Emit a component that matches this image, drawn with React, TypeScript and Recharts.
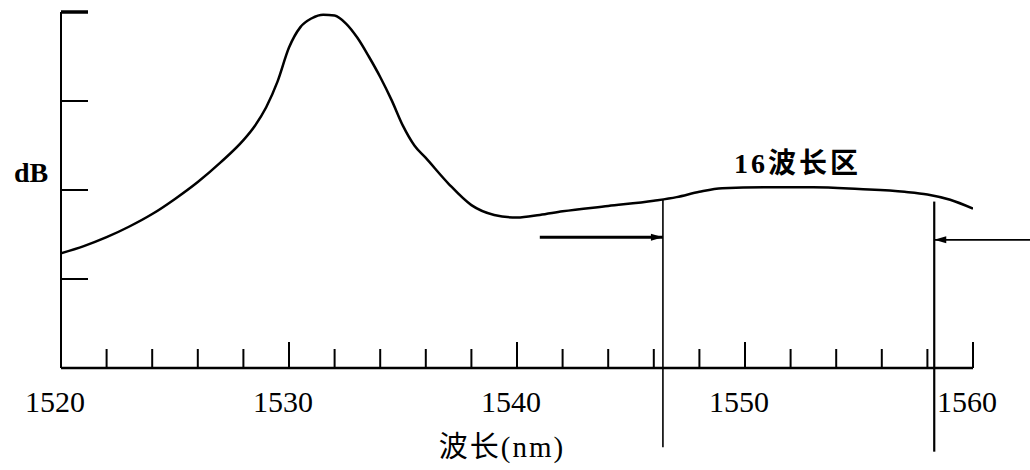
import { ComposedChart, Line, XAxis, YAxis, ReferenceLine, ReferenceDot, Label } from "recharts";

// gain curve (nm, relative dB)
const wavelength = [
  1520, 1521, 1522, 1523, 1524, 1525, 1526, 1527, 1528, 1528.5, 1529, 1529.5, 1530, 1530.5, 1531,
  1531.5, 1532, 1532.5, 1533, 1533.5, 1534, 1534.5, 1535, 1535.5, 1536, 1537, 1538, 1539, 1540,
  1541, 1542, 1544, 1546, 1547, 1548, 1549, 1551, 1553, 1555, 1557, 1558, 1559, 1560,
];
const gain = [
  1.29, 1.37, 1.47, 1.59, 1.73, 1.9, 2.09, 2.31, 2.56, 2.72, 2.93, 3.22, 3.6, 3.83, 3.93,
  3.97, 3.96, 3.87, 3.71, 3.5, 3.27, 3.01, 2.72, 2.5, 2.36, 2.07, 1.83, 1.72, 1.69,
  1.72, 1.76, 1.82, 1.88, 1.92, 1.98, 2.02, 2.03, 2.03, 2.01, 1.98, 1.95, 1.89, 1.79,
];

const xTicks = [1520, 1522, 1524, 1526, 1528, 1530, 1532, 1534, 1536, 1538, 1540, 1542, 1544, 1546, 1548, 1550, 1552, 1554, 1556, 1558, 1560];
const xTickLabels = ["1520", "1530", "1540", "1550", "1560"];
const yTicks = [0, 1, 2, 3, 4];

// 16-channel band edges and the arrows pointing at them
const bandEdges = [1546.4, 1558.3];
const bandEdgeTop = [1.89, 1.87];
const bandEdgeBottom = [-0.89, -0.94];
const arrowFrom = [1541.0, 1562.5];
const arrowLevel = [1.47, 1.44];
const bandLabel = "16波长区";
const bandLabelPos = { x: 1552.3, y: 2.3 };

const data = wavelength.map((w, i) => ({ w, g: gain[i] }));

const serif = "'Liberation Serif', 'DejaVu Serif', 'Noto Sans CJK SC', serif";

function XTick(props: any) {
  const { x, y, payload } = props;
  const label = String(payload.value);
  const major = xTickLabels.includes(label);
  return (
    <g>
      <line x1={x} x2={x} y1={y} y2={y - (major ? 26 : 19)} stroke="#000" strokeWidth={2} />
      {major && (
        <text x={x - 6} y={y + 44} textAnchor="middle" fontFamily={serif} fontSize={30} fill="#000">
          {label}
        </text>
      )}
    </g>
  );
}

function YTick(props: any) {
  const { x, y, payload } = props;
  if (payload.value === 0) return null;
  const top = payload.value === 4;
  return <line x1={x} x2={x + 27} y1={y} y2={y} stroke="#000" strokeWidth={top ? 3.5 : 2} />;
}

function Arrow(props: any) {
  const { x1, y1, x2, y2 } = props;
  const dir = x2 > x1 ? 1 : -1;
  const len = 12;
  return (
    <g>
      <line x1={x1} y1={y1} x2={x2} y2={y2} stroke="#000" strokeWidth={dir > 0 ? 3 : 1.6} />
      <path
        d={`M${x2},${y2} L${x2 - dir * len},${y2 - 3.5} L${x2 - dir * len},${y2 + 3.5} Z`}
        fill="#000"
      />
    </g>
  );
}

export default function App() {
  return (
    <div style={{ position: "absolute", left: 0, top: 0, width: 1030, height: 470, background: "#fff" }}>
      <ComposedChart width={1030} height={470} data={data} margin={{ top: 12, right: 57, bottom: 0, left: 0 }}>
        <XAxis
          dataKey="w"
          type="number"
          domain={[1520, 1560]}
          ticks={xTicks}
          interval={0}
          allowDataOverflow
          height={102}
          tickSize={0}
          tickMargin={0}
          tickLine={false}
          axisLine={{ stroke: "#000", strokeWidth: 2.5 }}
          tick={(p: any) => <XTick {...p} />}
        >
          <Label
            content={() => (
              <text x={502} y={457} textAnchor="middle" fontFamily={serif} fontSize={29} letterSpacing={2} fill="#000">
                波长(nm)
              </text>
            )}
          />
        </XAxis>
        <YAxis
          type="number"
          domain={[0, 4]}
          ticks={yTicks}
          interval={0}
          allowDataOverflow
          width={61}
          tickSize={0}
          tickMargin={0}
          tickLine={false}
          axisLine={{ stroke: "#000", strokeWidth: 2 }}
          tick={(p: any) => <YTick {...p} />}
        >
          <Label
            content={() => (
              <text x={31} y={182} textAnchor="middle" fontFamily={serif} fontSize={28} fontWeight="bold" fill="#000">
                dB
              </text>
            )}
          />
        </YAxis>
        <Line
          dataKey="g"
          type="monotone"
          stroke="#000"
          strokeWidth={2.5}
          dot={false}
          isAnimationActive={false}
        />
        {bandEdges.map((e, i) => (
          <ReferenceLine
            key={`edge-${i}`}
            segment={[
              { x: e, y: bandEdgeTop[i] },
              { x: e, y: bandEdgeBottom[i] },
            ]}
            ifOverflow="visible"
            stroke="#000"
            strokeWidth={i === 0 ? 1.6 : 2.2}
          />
        ))}
        {bandEdges.map((e, i) => (
          <ReferenceLine
            key={`arrow-${i}`}
            segment={[
              { x: arrowFrom[i], y: arrowLevel[i] },
              { x: e, y: arrowLevel[i] },
            ]}
            ifOverflow="visible"
            shape={(p: any) => <Arrow {...p} />}
          />
        ))}
        <ReferenceDot
          x={bandLabelPos.x}
          y={bandLabelPos.y}
          r={0}
          ifOverflow="visible"
          fill="none"
          stroke="none"
          label={{
            value: bandLabel,
            position: "center",
            fontFamily: serif,
            fontSize: 28,
            fontWeight: "bold",
            letterSpacing: 3,
            fill: "#000",
          }}
        />
      </ComposedChart>
    </div>
  );
}
